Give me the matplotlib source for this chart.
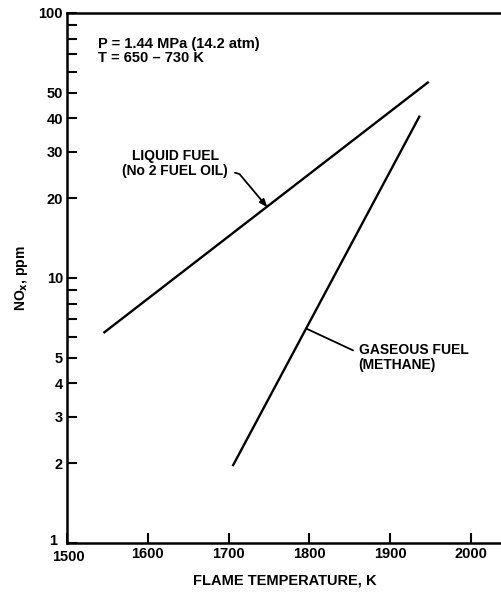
import matplotlib
matplotlib.use('Agg')
import matplotlib.pyplot as plt
import matplotlib.transforms as mtransforms
from matplotlib.ticker import FixedLocator, NullFormatter

plt.rcParams['font.family'] = ['Liberation Sans', 'DejaVu Sans']
plt.rcParams['font.weight'] = 'bold'

liquid_temp = [1545, 1948]
liquid_nox = [6.2, 55]
gas_temp = [1705, 1937]
gas_nox = [1.95, 41]

x_ticks = [1500, 1600, 1700, 1800, 1900, 2000]
y_major = [1, 2, 3, 4, 5, 10, 20, 30, 40, 50, 100]
y_minor = [6, 7, 8, 9, 60, 70, 80, 90]

fig = plt.figure(figsize=(5.01, 5.93), dpi=100)
ax = fig.add_axes([0.134, 0.0843, 0.87, 0.8938])

ax.plot(liquid_temp, liquid_nox, color='black', lw=1.7, solid_capstyle='butt')
ax.plot(gas_temp, gas_nox, color='black', lw=1.7, solid_capstyle='butt')

ax.set_yscale('log')
ax.set_xlim(1500, 2040)
ax.set_ylim(1, 100)

ax.xaxis.set_major_locator(FixedLocator(x_ticks))
ax.set_xticklabels([str(t) for t in x_ticks])
ax.yaxis.set_major_locator(FixedLocator(y_major))
ax.set_yticklabels([str(t) for t in y_major])
ax.yaxis.set_minor_locator(FixedLocator(y_minor))
ax.yaxis.set_minor_formatter(NullFormatter())

ax.tick_params(axis='both', which='major', direction='in', length=7, width=1.5,
               labelsize=10.5, pad=3)
ax.tick_params(axis='y', which='minor', direction='in', length=7, width=1.5)
ax.tick_params(axis='x', which='minor', bottom=False)

# the "1" sits a little above the "1500" in the original
fig.canvas.draw()
one = ax.get_yticklabels()[0]
one.set_transform(one.get_transform() +
                  mtransforms.ScaledTranslation(-4 / 72, 2.5 / 72, fig.dpi_scale_trans))
first = ax.get_xticklabels()[0]
first.set_transform(first.get_transform() +
                    mtransforms.ScaledTranslation(1 / 72, -2 / 72, fig.dpi_scale_trans))

for s in ['left', 'bottom', 'top']:
    ax.spines[s].set_linewidth(1.8)
ax.spines['right'].set_visible(False)

ax.set_xlabel('FLAME TEMPERATURE, K', fontsize=10.5, fontweight='bold', labelpad=7)
ax.set_ylabel('NO$_\\mathbf{x}$, ppm', fontsize=10, fontweight='bold', labelpad=6)

ax.text(0.07, 0.955, 'P = 1.44 MPa (14.2 atm)\nT = 650 \u2013 730 K',
        transform=ax.transAxes, fontsize=10.5, va='top', ha='left',
        linespacing=1.05)

ax.annotate('LIQUID FUEL\n(No 2 FUEL OIL)', xy=(1748, 18.5), xytext=(1634, 27),
            fontsize=10, ha='center', va='center', linespacing=1.1,
            arrowprops=dict(arrowstyle='-|>,head_length=0.45,head_width=0.18',
                            color='black', lw=1.3, shrinkA=3, shrinkB=0,
                            connectionstyle='angle,angleA=-15,angleB=130,rad=0',
                            relpos=(1.0, 0.25)))

ax.annotate('GASEOUS FUEL\n(METHANE)', xy=(1796, 6.45), xytext=(1861, 5.0),
            fontsize=10, ha='left', va='center', linespacing=1.1,
            arrowprops=dict(arrowstyle='-', color='black', lw=1.3,
                            shrinkA=2, shrinkB=0,
                            connectionstyle='angle,angleA=180,angleB=155,rad=0',
                            relpos=(0.0, 0.75)))

fig.savefig('out.png', dpi=100)
